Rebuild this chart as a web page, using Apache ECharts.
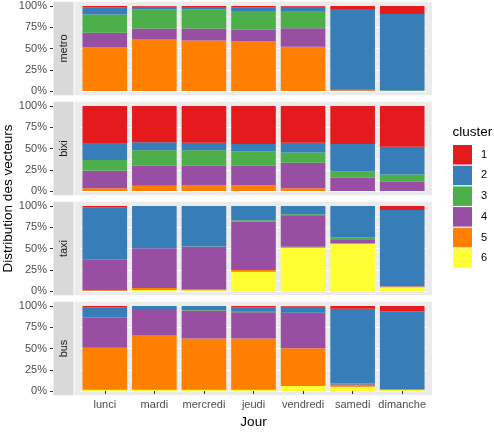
<!DOCTYPE html>
<html>
<head>
<meta charset="utf-8">
<script src="https://cdn.jsdelivr.net/npm/echarts@6/dist/echarts.min.js"></script>
<style>
  html, body { margin: 0; padding: 0; background: #fff; }
  #chart { width: 494px; height: 438px; }
</style>
</head>
<body>
<div id="chart"></div>
<script>
// jours et clusters
const days = ['lunci', 'mardi', 'mercredi', 'jeudi', 'vendredi', 'samedi', 'dimanche'];
const clusters = ['1', '2', '3', '4', '5', '6'];
const modes = ['metro', 'bixi', 'taxi', 'bus'];
const yTicks = [0, 25, 50, 75, 100];

// part (%) de chaque cluster par jour, une ligne par cluster 1..6
const metroShares = [
  [1.5, 1, 1.2, 1.6, 0.8, 3.5, 9.5],
  [8.5, 3, 2.6, 4.4, 6, 94.5, 90],
  [21.5, 22.6, 22.6, 22, 19.5, 0, 0.5],
  [17, 12.7, 14.3, 13.5, 21.7, 1, 0],
  [51.5, 60.7, 59.3, 58.5, 52, 1, 0],
  [0, 0, 0, 0, 0, 0, 0]
];
const bixiShares = [
  [44.4, 42.5, 43.3, 44.8, 43.3, 44.8, 48],
  [19.1, 9.5, 8.7, 8.8, 11.5, 32.2, 32.6],
  [12.7, 18.2, 18.2, 16.6, 11.9, 7.5, 8.4],
  [20.6, 23.5, 22.7, 23.1, 30.1, 15.5, 11],
  [3.2, 6.3, 7.1, 6.7, 3.2, 0, 0],
  [0, 0, 0, 0, 0, 0, 0]
];
const taxiShares = [
  [1.5, 0, 0, 0, 0, 0, 4.6],
  [61, 49.8, 47.6, 16.9, 9.8, 36.9, 89.8],
  [0, 0, 0.4, 1.6, 2, 3.1, 0],
  [36.5, 46.7, 49.6, 56.9, 36, 3.9, 0.3],
  [1, 2.3, 1.4, 1.9, 1.2, 0.5, 0.8],
  [0, 1.2, 1, 22.7, 51, 55.6, 4.5]
];
const busShares = [
  [1.6, 0, 0, 1.9, 0.8, 3.1, 6.6],
  [12, 4.7, 4.8, 5, 7, 88, 91],
  [0, 0, 0.6, 0.5, 0, 1, 1],
  [35.4, 30, 32.7, 30.7, 42, 1.5, 0],
  [49.5, 63.8, 60.4, 60.4, 44.4, 1.5, 0],
  [1.5, 1.5, 1.5, 1.5, 5.8, 4.9, 1.4]
];
const sharesByMode = [metroShares, bixiShares, taxiShares, busShares];

const colors = ['#E41A1C', '#377EB8', '#4DAF4A', '#984EA3', '#FF7F00', '#FFFF33'];
const font = '"Liberation Sans", Arial, sans-serif';

// geometrie des panneaux
const panelLeft = 74.5, panelRight = 432;
const gridLeft = 80, gridRight = 494 - 427;
const span = 85, pad = 4.25;
const gridTops = [6, 106, 206, 306];

// position="fill" : normalise chaque barre a 100
function fill(rows) {
  const totals = days.map((d, j) => rows.reduce((s, r) => s + r[j], 0));
  return rows.map(r => r.map((v, j) => v / totals[j] * 100));
}

let grids = [], xAxes = [], yAxes = [], series = [], graphics = [];

modes.forEach((mode, i) => {
  const last = i === modes.length - 1;
  grids.push({ left: gridLeft, right: gridRight, top: gridTops[i], height: span });
  xAxes.push({
    type: 'category', gridIndex: i, data: days,
    offset: pad - 1,
    axisLine: { show: false },
    axisTick: { show: last, alignWithLabel: true, interval: 0, length: 3, lineStyle: { color: '#333333' } },
    axisLabel: { show: last, interval: 0, color: '#4D4D4D', fontSize: 11, fontFamily: font, margin: 5 },
    splitLine: { show: false }
  });
  yAxes.push({
    type: 'value', gridIndex: i, min: 0, max: 100, interval: 25,
    offset: gridLeft - 53,
    axisLine: { show: false },
    axisTick: { show: true, length: 3, lineStyle: { color: '#333333' } },
    axisLabel: { color: '#4D4D4D', fontSize: 11, fontFamily: font, margin: 6,
      formatter: v => yTicks.includes(v) ? v + '%' : '' },
    splitLine: { lineStyle: { color: '#FFFFFF', width: 1.1 } },
    minorTick: { show: false, splitNumber: 2 },
    minorSplitLine: { show: true, lineStyle: { color: '#FFFFFF', width: 0.5 } }
  });

  const filled = fill(sharesByMode[i]);
  // empilement : cluster 6 en bas, 1 en haut
  for (let k = clusters.length - 1; k >= 0; k--) {
    series.push({
      type: 'bar', name: clusters[k], stack: mode,
      xAxisIndex: i, yAxisIndex: i,
      barWidth: '90%',
      itemStyle: { color: colors[k] },
      data: filled[k]
    });
  }

  const pTop = gridTops[i] - pad, pH = span + 2 * pad;
  graphics.push({
    type: 'rect', z: -10, silent: true,
    shape: { x: panelLeft, y: pTop, width: panelRight - panelLeft, height: pH },
    style: { fill: '#EBEBEB' }
  });
  graphics.push({
    type: 'rect', z: -10, silent: true,
    shape: { x: 53.5, y: pTop, width: 20, height: pH },
    style: { fill: '#D9D9D9' }
  });
  graphics.push({
    type: 'text', silent: true,
    x: 63.5, y: pTop + pH / 2, rotation: Math.PI / 2,
    style: { text: mode, fill: '#1A1A1A', font: '11px ' + font, align: 'center', verticalAlign: 'middle' }
  });
});

graphics.push({
  type: 'text', silent: true, x: 8, y: 198.5, rotation: Math.PI / 2,
  style: { text: 'Distribution des vecteurs', fill: '#000', font: '13.5px ' + font, align: 'center', verticalAlign: 'middle' }
});
graphics.push({
  type: 'text', silent: true, x: 253.5, y: 422.5,
  style: { text: 'Jour', fill: '#000', font: '13.5px ' + font, align: 'center', verticalAlign: 'middle' }
});
graphics.push({
  type: 'text', silent: true, x: 452.5, y: 132,
  style: { text: 'cluster', fill: '#000', font: '13.5px ' + font, align: 'left', verticalAlign: 'middle' }
});

const chart = echarts.init(document.getElementById('chart'));
chart.setOption({
  animation: false,
  backgroundColor: '#FFFFFF',
  grid: grids,
  xAxis: xAxes,
  yAxis: yAxes,
  legend: {
    data: clusters, orient: 'vertical', left: 453, top: 145, padding: 0,
    icon: 'rect', itemWidth: 19, itemHeight: 19.5, itemGap: 1.2,
    textStyle: { color: '#000', fontSize: 11, fontFamily: font, padding: [0, 0, 0, 4] }
  },
  graphic: graphics,
  series: series
});
</script>
</body>
</html>
